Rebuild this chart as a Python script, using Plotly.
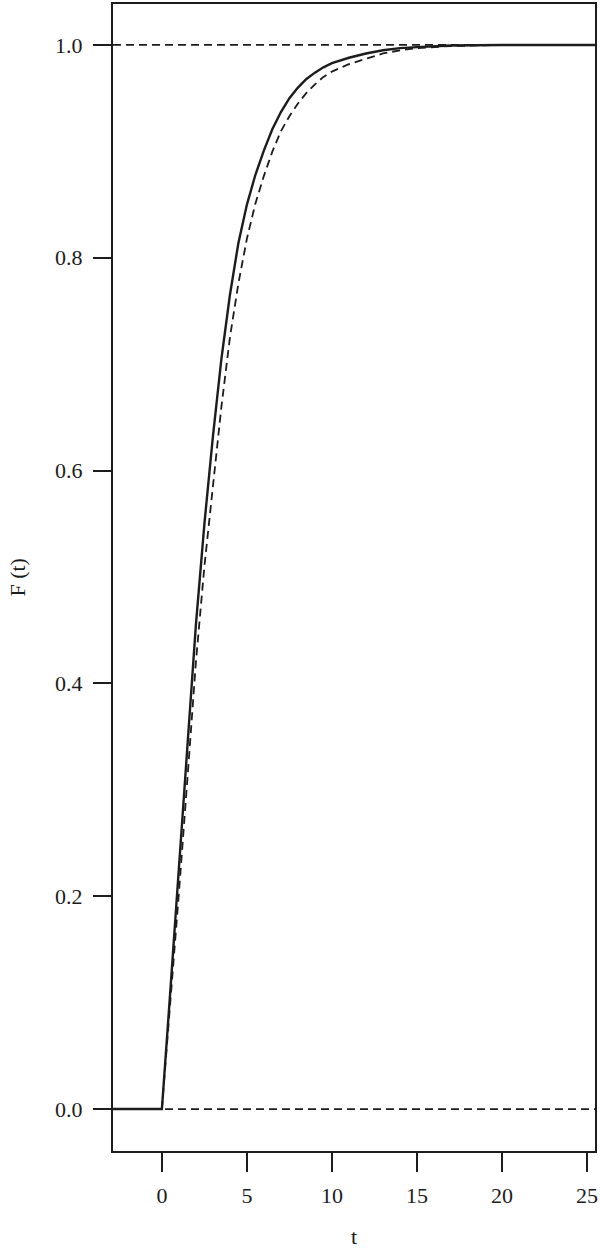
import plotly.graph_objects as go

# Values
t_solid = [-3, 0, 0.5, 1, 1.5, 2, 2.5, 3, 3.5, 4, 4.5, 5, 5.5, 6, 6.5, 7, 7.5, 8, 8.5, 9,
           9.5, 10, 11, 12, 13, 14, 15, 17, 20, 26]
F_solid = [0, 0, 0.112, 0.225, 0.34, 0.455, 0.55, 0.632, 0.705, 0.765, 0.814, 0.85, 0.878,
           0.901, 0.921, 0.937, 0.95, 0.96, 0.968, 0.974, 0.979, 0.983, 0.988, 0.992,
           0.995, 0.997, 0.998, 0.9995, 1.0, 1.0]

t_dashed = [0, 0.5, 1, 1.5, 2, 2.5, 3, 3.5, 4, 4.5, 5, 5.5, 6, 6.5, 7, 7.5, 8, 8.5, 9,
            9.5, 10, 11, 12, 13, 14, 15, 17, 20, 26]
F_dashed = [0, 0.1, 0.203, 0.31, 0.42, 0.51, 0.587, 0.66, 0.725, 0.776, 0.818, 0.851, 0.877,
            0.9, 0.919, 0.933, 0.945, 0.955, 0.963, 0.97, 0.975, 0.982, 0.987, 0.992,
            0.995, 0.997, 0.999, 1.0, 1.0]

ref_levels = [0.0, 1.0]

x_ticks = [0, 5, 10, 15, 20, 25]
y_ticks = [0.0, 0.2, 0.4, 0.6, 0.8, 1.0]
y_tick_labels = ["0.0", "0.2", "0.4", "0.6", "0.8", "1.0"]

INK = "#1c1c1c"
FONT = "Liberation Serif"
DASH = "8px,5px"

fig = go.Figure()

for lvl in ref_levels:
    fig.add_shape(type="line", xref="paper", x0=0, x1=1, yref="y", y0=lvl, y1=lvl,
                  line=dict(color=INK, width=1.8, dash=DASH), layer="above")

fig.add_trace(go.Scatter(x=t_dashed, y=F_dashed, mode="lines",
                         line=dict(color=INK, width=1.8, dash=DASH),
                         showlegend=False, hoverinfo="skip"))
fig.add_trace(go.Scatter(x=t_solid, y=F_solid, mode="lines",
                         line=dict(color=INK, width=2.4),
                         showlegend=False, hoverinfo="skip"))

fig.update_layout(
    width=600, height=1252,
    margin=dict(l=113, r=4, t=2, b=101),
    paper_bgcolor="white", plot_bgcolor="white",
    font=dict(family=FONT, size=22, color=INK),
    showlegend=False,
)

fig.update_xaxes(
    range=[-2.875, 25.47], tickmode="array", tickvals=x_ticks,
    ticks="outside", ticklen=19, tickwidth=1.8, tickcolor=INK,
    showline=True, linecolor=INK, linewidth=2, mirror=True,
    showgrid=False, zeroline=False, ticklabelstandoff=5,
    tickfont=dict(family=FONT, size=22, color=INK),
)
fig.update_yaxes(
    range=[-0.0394, 1.0385], tickmode="array", tickvals=y_ticks, ticktext=y_tick_labels,
    ticks="outside", ticklen=18, tickwidth=1.8, tickcolor=INK,
    showline=True, linecolor=INK, linewidth=2, mirror=True,
    showgrid=False, zeroline=False, ticklabelstandoff=6,
    tickfont=dict(family=FONT, size=22, color=INK),
)

fig.add_annotation(text="t", xref="paper", yref="paper", x=0.5, y=-0.0748,
                   showarrow=False, xanchor="center", yanchor="middle",
                   font=dict(family=FONT, size=22, color=INK))
fig.add_annotation(text="F (t)", xref="paper", yref="paper", x=-0.199, y=0.5,
                   showarrow=False, xanchor="center", yanchor="middle", textangle=-90,
                   font=dict(family=FONT, size=22, color=INK))

fig.write_html("out.html", config={"displayModeBar": False},
               post_script="document.body.style.margin='0px';document.body.style.padding='0px';")
